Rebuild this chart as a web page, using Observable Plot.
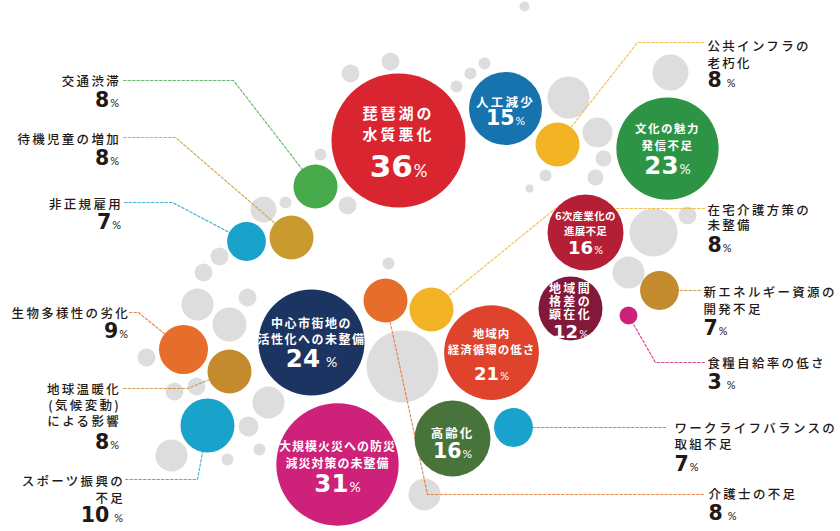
<!DOCTYPE html>
<html><head><meta charset="utf-8">
<script src="https://cdn.jsdelivr.net/npm/d3@7"></script>
<script src="https://cdn.jsdelivr.net/npm/@observablehq/plot@0.6"></script>
<style>body{margin:0;background:#fff} svg{display:block}</style>
</head><body><div id="chart"></div>
<script>
// ---- data ----
const names = ["琵琶湖の\n水質悪化","人工減少","公共インフラの\n老朽化","文化の魅力\n発信不足","6次産業化の\n進展不足","在宅介護方策の\n未整備","新エネルギー資源の\n開発不足","地域間\n格差の\n顕在化","食糧自給率の低さ","地域内\n経済循環の低さ","高齢化","ワークライフバランスの\n取組不足","介護士の不足","大規模火災への防災\n減災対策の未整備","中心市街地の\n活性化への未整備","交通渋滞","待機児童の増加","非正規雇用","生物多様性の劣化","地球温暖化\n(気候変動)\nによる影響","スポーツ振興の\n不足"];
const values = [36,15,8,23,16,8,7,12,3,21,16,7,8,31,24,8,8,7,9,8,10];
const colors = ["#D9252F","#1673AE","#F2B325","#2E9445","#B51F35","#F2B325","#C38A2E","#83193A","#CE2179","#E0432B","#48733A","#19A2CB","#E76D2B","#CE2179","#1C3461","#46AA4A","#C99B2F","#19A3CB","#E76D2B","#C38A2E","#19A3CB"];

// ---- layout (bubble centres) ----
const cx = [398,505,557,667,585,431,659,570,628,491,452,513,385,337,311,315,291,246,183,229,207];
const cy = [140,108,144,148,232,309,290,308,315,352,438,427,300,464,342,186,237,241,349,371,425];

// decorative gray bubbles
const grayX = [524,350,390,484,470,456,568,670,597,603,595,545,529,320,347,285,263,219,203,197,247,229,388,146,174,196,268,248,259,227,171,402,424,653,687,628];
const grayY = [6,73,61,63,73,86,97,72,132,158,177,175,188,154,205,202,209,256,272,304,297,324,263,357,391,386,402,426,449,459,455,366,494,232,215,272];
const grayR = [5,9,9,6,6,6,21,18,15,8,8,6,4,6,9,6,13,9,9,16,9,17,6,9,9,9,16,10,6,6,16,36,16,24,9,16];

const inside = [
 {i:0, fs:15, ls:3, lh:1.4, dy:-17.5, nfs:31, pfs:17, ndy:27, gap:1},
 {i:1, fs:12.5, ls:2.3, lh:1.3, dy:-7, nfs:20.5, pfs:12, ndy:10, gap:1},
 {i:3, fs:11.5, ls:1.5, lh:1.45, dy:-12.5, nfs:24.5, pfs:14, ndy:18, gap:1},
 {i:4, fs:10.5, ls:0.3, lh:1.4, dy:-9.5, nfs:18, pfs:11, ndy:16, gap:1},
 {i:7, fs:12, ls:2.3, lh:1.1, dy:-7, nfs:18, pfs:11, ndy:23.5, gap:1},
 {i:9, fs:11.5, ls:1, lh:1.4, dy:-12, nfs:18, pfs:11, ndy:22, gap:1},
 {i:10, fs:12.5, ls:2, lh:1.3, dy:-6, nfs:20.5, pfs:12, ndy:13, gap:1},
 {i:13, fs:12, ls:1, lh:1.4, dy:-10.5, nfs:24.5, pfs:14, ndy:20, gap:1},
 {i:14, fs:12, ls:1.5, lh:1.33, dy:-12, nfs:24.5, pfs:14, ndy:17, gap:6}
];
const outside = [
 {i:15, side:"L", x:120.5, y:80, lh:1.3, ny:100, gap:1},
 {i:16, side:"L", x:120.5, y:138, lh:1.3, ny:158, gap:1},
 {i:17, side:"L", x:122.5, y:203, lh:1.3, ny:222, gap:1},
 {i:18, side:"L", x:129.5, y:312, lh:1.3, ny:331, gap:1},
 {i:19, side:"L", x:120.5, y:404, lh:1.28, ny:442, gap:1},
 {i:20, side:"L", x:124.5, y:488.5, lh:1.36, ny:515, gap:5},
 {i:2, side:"R", x:707, y:53.5, lh:1.36, ny:80, gap:5},
 {i:5, side:"R", x:707, y:217.5, lh:1.2, ny:245, gap:1},
 {i:6, side:"R", x:703, y:299.5, lh:1.36, ny:328, gap:1},
 {i:8, side:"R", x:707, y:362, lh:1.3, ny:382, gap:5},
 {i:11, side:"R", x:674, y:435, lh:1.28, ny:464, gap:1},
 {i:12, side:"R", x:708, y:493, lh:1.3, ny:513, gap:5}
];
const leaders = [
 {i:15, pts:[[123,80],[233,80]]},
 {i:16, pts:[[123,137],[175,137]]},
 {i:17, pts:[[124,202],[172,202]]},
 {i:18, pts:[[129,312],[138,312]]},
 {i:19, pts:[[123,388],[187,388]]},
 {i:20, pts:[[125,479],[197,479]]},
 {i:2, pts:[[703,42],[637,42]]},
 {i:5, pts:[[704,208],[555,208]]},
 {i:6, pts:[[700,290]]},
 {i:8, pts:[[704,362],[655,362]]},
 {i:11, pts:[[665,427]]},
 {i:12, pts:[[703,494],[427,494]]}
];

const CJK = "'Noto Sans CJK JP', 'Noto Sans', sans-serif";
const NUM = "'DejaVu Sans', Lato, sans-serif";
const PCT = "Lato, 'Noto Sans', sans-serif";
const DARK = "#231815";
const numW = (v, fs) => String(v).length * 0.696 * fs;
const pctW = fs => 0.8 * fs;

const marks = [];
// gray bubbles
d3.range(grayX.length).forEach(k => {
  marks.push(Plot.dot([k], {x: () => grayX[k], y: () => grayY[k], r: grayR[k], fill: "#DDDDDD"}));
});
// leader lines
const lineData = leaders.flatMap(l => [...l.pts, [cx[l.i], cy[l.i]]].map(p => ({i: l.i, x: p[0], y: p[1]})));
marks.push(Plot.line(lineData, {x: "x", y: "y", z: "i", stroke: d => colors[d.i], strokeWidth: 1.2, strokeDasharray: "2.5,2", strokeOpacity: 0.8}));
// coloured bubbles
marks.push(Plot.dot(d3.range(values.length), {x: i => cx[i], y: i => cy[i], r: i => values[i], fill: i => colors[i]}));

// inside labels
inside.forEach(d => {
  const i = d.i;
  marks.push(Plot.text([d], {x: () => cx[i], y: () => cy[i] + d.dy, text: () => names[i], fill: "white", fontSize: d.fs, lineHeight: d.lh, fontFamily: CJK, fontWeight: 700, textAnchor: "middle", ariaDescription: "ls:" + d.ls}));
  const nw = numW(values[i], d.nfs), pw = pctW(d.pfs);
  const end = cx[i] - (nw + d.gap + pw) / 2 + nw;
  const ny = cy[i] + d.ndy;
  marks.push(Plot.text([d], {x: () => end, y: () => ny, text: () => String(values[i]), fill: "white", fontSize: d.nfs, fontFamily: NUM, fontWeight: 700, textAnchor: "end"}));
  marks.push(Plot.text([d], {x: () => end + d.gap, y: () => ny + 0.32 * (d.nfs - d.pfs), text: () => "%", fill: "white", fontSize: d.pfs, fontFamily: PCT, fontWeight: 400, textAnchor: "start"}));
});

// outside labels
const ONF = 20.5, OPF = 11, OFS = 12.5;
outside.forEach(d => {
  const i = d.i;
  const left = d.side === "L";
  marks.push(Plot.text([d], {x: () => d.x, y: () => d.y, text: () => names[i], fill: DARK, fontSize: OFS, lineHeight: d.lh, fontFamily: CJK, fontWeight: 500, textAnchor: left ? "end" : "start", ariaDescription: "ls:2.3"}));
  const nw = numW(values[i], ONF), pw = pctW(OPF);
  let numEnd;
  if (left) numEnd = d.x - 2 - pw - d.gap; else numEnd = d.x + nw;
  marks.push(Plot.text([d], {x: () => numEnd, y: () => d.ny, text: () => String(values[i]), fill: DARK, fontSize: ONF, fontFamily: NUM, fontWeight: 700, textAnchor: "end"}));
  marks.push(Plot.text([d], {x: () => numEnd + d.gap, y: () => d.ny + 0.32 * (ONF - OPF), text: () => "%", fill: DARK, fontSize: OPF, fontFamily: PCT, fontWeight: 400, textAnchor: "start"}));
});

const svg = Plot.plot({
  width: 840, height: 531, margin: 0,
  x: {domain: [0, 840], range: [0, 840], axis: null},
  y: {domain: [0, 531], range: [0, 531], axis: null},
  r: {type: "linear", domain: [0, 3, 8, 12, 16, 24, 36], range: [0, 9, 22, 32, 38, 53, 67]},
  color: {type: "identity"},
  style: {background: "white"},
  marks
});
d3.select(svg).selectAll("[aria-description]").each(function() {
  const v = this.getAttribute("aria-description");
  if (v && v.startsWith("ls:")) this.setAttribute("letter-spacing", v.slice(3));
});
document.getElementById("chart").append(svg);
</script>
</body></html>
